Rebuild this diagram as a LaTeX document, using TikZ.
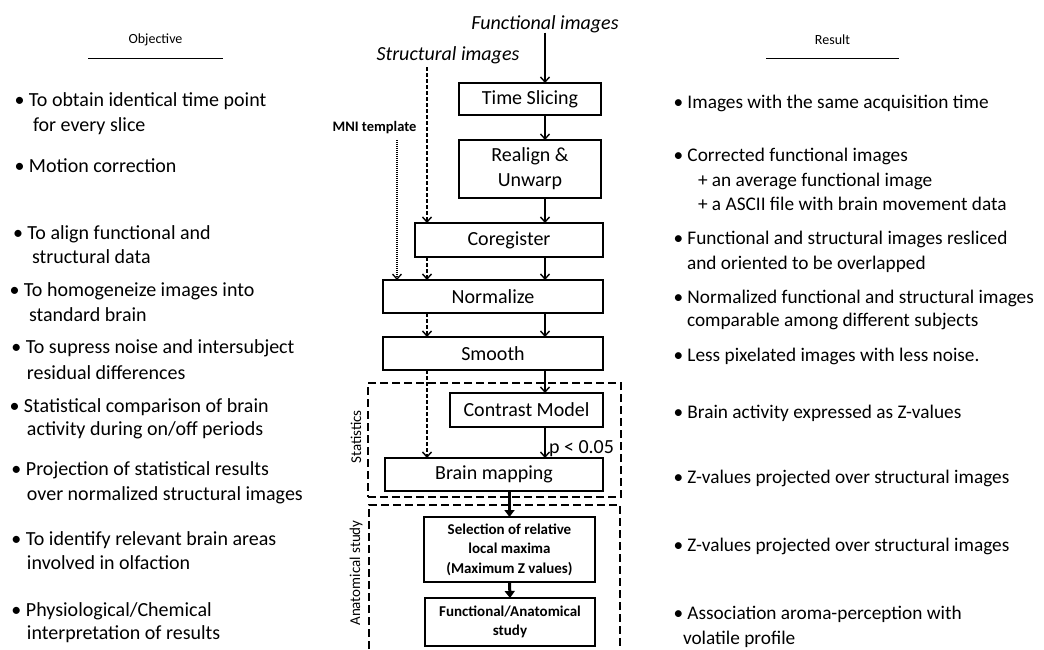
\documentclass[tikz,border=0pt]{standalone}
\usepackage{fontspec}
\setmainfont{Carlito}
\usetikzlibrary{arrows.meta}
\begin{document}
\begin{tikzpicture}[x=1pt,y=-1pt,
  every node/.style={inner sep=0pt, outer sep=0pt},
  box/.style={draw, line width=1.8pt, font=\fontsize{20}{25}\selectfont, align=center},
  sbox/.style={draw, line width=1.8pt, font=\bfseries\fontsize{15}{19.5}\selectfont, align=center},
  txt/.style={font=\fontsize{20}{24}\selectfont, anchor=base west},
  rtxt/.style={font=\fontsize{19.3}{24}\selectfont, anchor=base west},
  hdr/.style={font=\fontsize{14}{17}\selectfont},
  side/.style={font=\fontsize{15}{18}\selectfont, rotate=90},
  dbox/.style={draw, line width=2.2pt, dash pattern=on 8pt off 4pt},
  flow/.style={line width=1.4pt, -{Straight Barb[length=5pt,width=9pt,line width=1.4pt]}},
  sflow/.style={line width=1.4pt, dash pattern=on 4pt off 2pt, -{Straight Barb[length=5pt,width=9pt,line width=1.4pt]}},
  mflow/.style={line width=1.3pt, dash pattern=on 1pt off 1pt, -{Straight Barb[length=5pt,width=9pt,line width=1.3pt]}},
  tflow/.style={line width=3pt, -{Triangle[length=7pt,width=10pt]}}
]
\useasboundingbox (0,0) rectangle (1044,649);

% headers
\node[hdr] (ho) at (155.5,40) {Objective};
\node[hdr] (hr) at (832.5,40) {Result};
\draw[line width=0.8pt] (88,58) -- (223,58);
\draw[line width=0.8pt] (766,58) -- (899,58);

% inputs
\node[font=\itshape\fontsize{20}{24}\selectfont] (fi) at (545,24) {Functional images};
\node[font=\itshape\fontsize{20}{24}\selectfont] (si) at (448,55) {Structural images};
\node[font=\bfseries\fontsize{14.5}{17}\selectfont] (mni) at (374.5,128) {MNI template};
\coordinate (sx) at (427,67);
\coordinate (mx) at (397,140);

% dashed groups
\node[dbox, minimum width=253pt, minimum height=114pt] (stat) at (494.5,440) {};
\draw[dbox] (369,649) -- (369,505) -- (620,505) -- (620,649);
\node[side] (stl) at (356,437) {Statistics};
\node[side] (anl) at (356,573) {Anatomical study};

% process boxes
\node[box, minimum width=142pt, minimum height=32pt] (ts) at (530,99) {Time Slicing};
\node[box, minimum width=142pt, minimum height=58pt] (rea) at (530,169) {Realign \&\\Unwarp};
\node[box, minimum width=188pt, minimum height=34pt] (cor) at (509,240) {Coregister};
\node[box, minimum width=220pt, minimum height=33pt] (nor) at (493,296.5) {Normalize};
\node[box, minimum width=220pt, minimum height=33pt] (smo) at (493,353.5) {Smooth};
\node[box, minimum width=153pt, minimum height=34pt] (con) at (526.5,410) {Contrast Model};
\node[box, minimum width=218pt, minimum height=33pt] (bm) at (494,474.5) {Brain mapping};
\node[sbox, minimum width=171pt, minimum height=65pt] (sel) at (509.5,549.5) {Selection of relative\\local maxima\\(Maximum Z values)};
\node[sbox, minimum width=170pt, minimum height=48pt] (fa) at (510,622) {Functional/Anatomical\\study};

% functional flow
\draw[flow] (fi.south) -- (ts.north -| fi);
\draw[flow] (ts.south -| fi) -- (rea.north -| fi);
\draw[flow] (rea.south -| fi) -- (cor.north -| fi);
\draw[flow] (cor.south -| fi) -- (nor.north -| fi);
\draw[flow] (nor.south -| fi) -- (smo.north -| fi);
\draw[flow] (smo.south -| fi) -- (con.north -| fi);
\draw[flow] (con.south -| fi) -- node[pos=0.7, anchor=west, xshift=4pt, font=\fontsize{20}{24}\selectfont] (pv) {p < 0.05} (bm.north -| fi);

% structural flow
\draw[sflow] (sx) -- (cor.north -| sx);
\draw[sflow] (cor.south -| sx) -- (nor.north -| sx);
\draw[sflow] (nor.south -| sx) -- (smo.north -| sx);
\draw[sflow] (smo.south -| sx) -- (bm.north -| sx);
\draw[mflow] (mx) -- (nor.north -| mx);

% anatomical flow
\draw[tflow] (bm.south -| sel) -- (sel.north);
\draw[tflow] (sel.south) -- (fa.north);

% objectives
\node[txt] (o1a) at (14.5,106) {• To obtain identical time point};
\node[txt] (o1b) at (33,131) {for every slice};
\node[txt] (o2a) at (14.5,172) {• Motion correction};
\node[txt] (o3a) at (13,239) {• To align functional and};
\node[txt] (o3b) at (32,263) {structural data};
\node[txt] (o4a) at (9.5,296) {• To homogeneize images into};
\node[txt] (o4b) at (29,321) {standard brain};
\node[txt] (o5a) at (11.5,353) {• To supress noise and intersubject};
\node[txt] (o5b) at (27,379) {residual differences};
\node[txt] (o6a) at (9.5,412) {• Statistical comparison of brain};
\node[txt] (o6b) at (27,435) {activity during on/off periods};
\node[txt] (o7a) at (11.5,475) {• Projection of statistical results};
\node[txt] (o7b) at (27,500) {over normalized structural images};
\node[txt] (o8a) at (11.5,545) {• To identify relevant brain areas};
\node[txt] (o8b) at (27,569) {involved in olfaction};
\node[txt] (o9a) at (11.5,616) {• Physiological/Chemical};
\node[txt] (o9b) at (27,639) {interpretation of results};

% results
\node[rtxt] (r1a) at (673.5,108) {• Images with the same acquisition time};
\node[rtxt] (r2a) at (673.5,161) {• Corrected functional images};
\node[rtxt] (r2b) at (698,186) {+ an average functional image};
\node[rtxt] (r2c) at (698,210) {+ a ASCII file with brain movement data};
\node[rtxt] (r3a) at (673.5,244) {• Functional and structural images resliced};
\node[rtxt] (r3b) at (687,269) {and oriented to be overlapped};
\node[rtxt] (r4a) at (673.5,303) {• Normalized functional and structural images};
\node[rtxt] (r4b) at (687,326) {comparable among different subjects};
\node[rtxt] (r5a) at (673.5,361) {• Less pixelated images with less noise.};
\node[rtxt] (r6a) at (673.5,418) {• Brain activity expressed as Z-values};
\node[rtxt] (r7a) at (673.5,483) {• Z-values projected over structural images};
\node[rtxt] (r8a) at (673.5,551) {• Z-values projected over structural images};
\node[rtxt] (r9a) at (673.5,619) {• Association aroma-perception with};
\node[rtxt] (r9b) at (683,644) {volatile profile};
\end{tikzpicture}
\end{document}
